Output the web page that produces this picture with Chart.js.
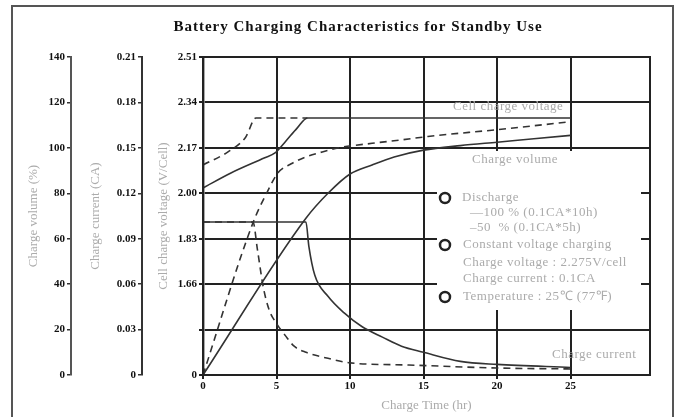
<!DOCTYPE html>
<html>
<head>
<meta charset="utf-8">
<script src="https://cdn.jsdelivr.net/npm/chart.js@4.4.0/dist/chart.umd.min.js"></script>
<style>
body { margin: 0; background: #fff; }
</style>
</head>
<body>
<canvas id="mycanvas" width="682" height="417"></canvas>
<script>
var timeTicks = [0, 5, 10, 15, 20, 25];
var volumeTicks = [0, 20, 40, 60, 80, 100, 120, 140];
var volumeLabels = ['0', '20', '40', '60', '80', '100', '120', '140'];
var currentTicks = [0, 0.03, 0.06, 0.09, 0.12, 0.15, 0.18, 0.21];
var currentLabels = ['0', '0.03', '0.06', '0.09', '0.12', '0.15', '0.18', '0.21'];
var voltageTicks = [1.32, 1.49, 1.66, 1.83, 2.00, 2.17, 2.34, 2.51];
var voltageLabels = ['0', '', '1.66', '1.83', '2.00', '2.17', '2.34', '2.51'];

// 100 % discharge (0.1CA*10h) - solid
var vol100Hours = [0, 7, 8.5, 10, 11.5, 13, 15, 17.5, 20, 22.5, 25];
var vol100 = [0, 69, 80, 88.5, 92.5, 96, 99, 101, 102.5, 104, 105.5];
var cur100Hours = [0, 7, 7.2, 7.6, 8.5, 9.6, 10.8, 12.2, 13.5, 15, 17.5, 20, 25];
var cur100 = [0.101, 0.101, 0.085, 0.066, 0.052, 0.041, 0.032, 0.025, 0.019, 0.015, 0.009, 0.007, 0.005];
var volt100Hours = [0, 1.9, 4.2, 4.9, 5.6, 6.4, 7.1, 25];
var volt100 = [2.02, 2.076, 2.133, 2.151, 2.193, 2.244, 2.282, 2.282];

// 50 % discharge (0.1CA*5h) - dashed
var vol50Hours = [0, 3.4, 4.4, 5.1, 6, 7, 8, 9.2, 11.5, 13.5, 15.3, 20, 25];
var vol50 = [0, 67, 81, 89, 93, 96, 98, 100, 102, 103.5, 105, 108, 111.5];
var cur50Hours = [0, 3.4, 3.7, 4.1, 4.5, 5, 5.6, 6.2, 7, 8.5, 10, 14, 20, 25];
var cur50 = [0.101, 0.101, 0.083, 0.058, 0.043, 0.034, 0.026, 0.019, 0.015, 0.011, 0.008, 0.0066, 0.0046, 0.004];
var volt50Hours = [0, 1.7, 2.9, 3.6, 7.1];
var volt50 = [2.106, 2.155, 2.21, 2.282, 2.282];

var serif = '"Liberation Serif", "Times New Roman", serif';
var ink = '#333';
var grey = '#ababab';

function pts(xs, ys) {
	return xs.map(function(x, i) { return {x: x, y: ys[i]}; });
}

function line(data, axis, dashed) {
	return {
		data: data,
		yAxisID: axis,
		borderColor: ink,
		borderWidth: 1.6,
		borderDash: dashed ? [7, 5] : [],
		pointRadius: 0,
		fill: false,
		cubicInterpolationMode: 'monotone'
	};
}

function setTicks(list) {
	return function(scale) {
		scale.ticks = list.map(function(v) { return {value: v}; });
	};
}

var tickFont = {family: serif, weight: 'bold', size: 11};
var titleFont = {family: serif, size: 13};

var notes = {
	id: 'notes',
	afterDatasetsDraw: function(chart) {
		var ctx = chart.ctx;
		var a = chart.chartArea;
		ctx.save();
		// white panel that the key sits on
		ctx.fillStyle = '#fff';
		ctx.fillRect(a.left + 234, a.top + 94, 204, 159);

		ctx.font = '13px ' + serif;
		ctx.letterSpacing = '0.5px';
		ctx.fillStyle = grey;
		ctx.textBaseline = 'middle';
		ctx.textAlign = 'left';
		ctx.fillText('Cell charge voltage', a.left + 250, a.top + 50);
		ctx.fillText('Charge volume', a.left + 269, a.top + 103);
		ctx.fillText('Discharge', a.left + 259, a.top + 141);
		ctx.fillText('\u2014100 % (0.1CA*10h)', a.left + 267, a.top + 156);
		ctx.fillText('\u201350  % (0.1CA*5h)', a.left + 267, a.top + 171);
		ctx.fillText('Constant voltage charging', a.left + 260, a.top + 188);
		ctx.fillText('Charge voltage : 2.275V/cell', a.left + 260, a.top + 206);
		ctx.fillText('Charge current : 0.1CA', a.left + 260, a.top + 222);
		ctx.fillText('Temperature : 25\u2103 (77\u2109)', a.left + 260, a.top + 240);
		ctx.fillText('Charge current', a.left + 349, a.top + 298);

		ctx.strokeStyle = '#222';
		ctx.lineWidth = 2.5;
		[141, 188, 240].forEach(function(dy) {
			ctx.beginPath();
			ctx.arc(a.left + 242, a.top + dy, 5, 0, Math.PI * 2);
			ctx.stroke();
		});
		ctx.restore();
	},
	afterDraw: function(chart) {
		var ctx = chart.ctx;
		var a = chart.chartArea;
		ctx.save();
		ctx.strokeStyle = '#222';
		ctx.lineWidth = 2;
		ctx.strokeRect(a.left, a.top, a.right - a.left, a.bottom - a.top);

		ctx.strokeStyle = '#555';
		ctx.strokeRect(12, 6, 661, 430);

		ctx.font = 'bold 15px ' + serif;
		ctx.letterSpacing = '1px';
		ctx.fillStyle = '#111';
		ctx.textAlign = 'center';
		ctx.textBaseline = 'middle';
		ctx.fillText('Battery Charging Characteristics for Standby Use', 358, 27);
		ctx.restore();
	}
};

var ctx = document.getElementById('mycanvas');

var chart = new Chart(ctx, {
	type: 'line',
	data: {
		datasets: [
			line(pts(vol100Hours, vol100), 'yVol', false),
			line(pts(vol50Hours, vol50), 'yVol', true),
			line(pts(cur100Hours, cur100), 'yCur', false),
			line(pts(cur50Hours, cur50), 'yCur', true),
			line(pts(volt100Hours, volt100), 'yVolt', false),
			line(pts(volt50Hours, volt50), 'yVolt', true)
		]
	},
	options: {
		responsive: false,
		animation: false,
		layout: {padding: {left: 20, right: 32, top: 57, bottom: 0}},
		plugins: {legend: {display: false}, tooltip: {enabled: false}},
		scales: {
			x: {
				type: 'linear',
				min: 0,
				max: 30.4,
				afterBuildTicks: setTicks(timeTicks),
				afterFit: function(s) { s.height = 42; },
				grid: {color: '#222', lineWidth: 2, tickLength: 4},
				border: {color: '#222', width: 2},
				ticks: {color: '#111', font: tickFont, padding: 1, maxRotation: 0},
				title: {display: true, text: 'Charge Time (hr)', color: grey, font: titleFont, padding: {top: 2, bottom: 4}}
			},
			yVol: {
				position: 'left',
				weight: 2,
				min: 0,
				max: 140,
				afterBuildTicks: setTicks(volumeTicks),
				afterFit: function(s) { s.width = 51; },
				grid: {drawOnChartArea: false, color: '#333', lineWidth: 1.5, tickLength: 4},
				border: {color: '#555', width: 2},
				ticks: {color: '#111', font: tickFont, padding: 2, callback: function(v, i) { return volumeLabels[i]; }},
				title: {display: true, text: 'Charge volume (%)', color: grey, font: titleFont, padding: {top: 6, bottom: 0}}
			},
			yCur: {
				position: 'left',
				weight: 1,
				min: 0,
				max: 0.21,
				afterBuildTicks: setTicks(currentTicks),
				afterFit: function(s) { s.width = 71; },
				grid: {drawOnChartArea: false, color: '#333', lineWidth: 1.5, tickLength: 4},
				border: {color: '#333', width: 2},
				ticks: {color: '#111', font: tickFont, padding: 2, callback: function(v, i) { return currentLabels[i]; }},
				title: {display: true, text: 'Charge current (CA)', color: grey, font: titleFont, padding: {top: 17, bottom: 0}}
			},
			yVolt: {
				position: 'left',
				weight: 0,
				min: 1.32,
				max: 2.51,
				afterBuildTicks: setTicks(voltageTicks),
				afterFit: function(s) { s.width = 61; },
				grid: {color: '#222', lineWidth: 2, tickLength: 4},
				border: {color: '#555', width: 2.5},
				ticks: {color: '#111', font: tickFont, padding: 2, callback: function(v, i) { return voltageLabels[i]; }},
				title: {display: true, text: 'Cell charge voltage (V/Cell)', color: grey, font: titleFont, padding: {top: 14, bottom: 0}}
			}
		}
	},
	plugins: [notes]
});
</script>
</body>
</html>
